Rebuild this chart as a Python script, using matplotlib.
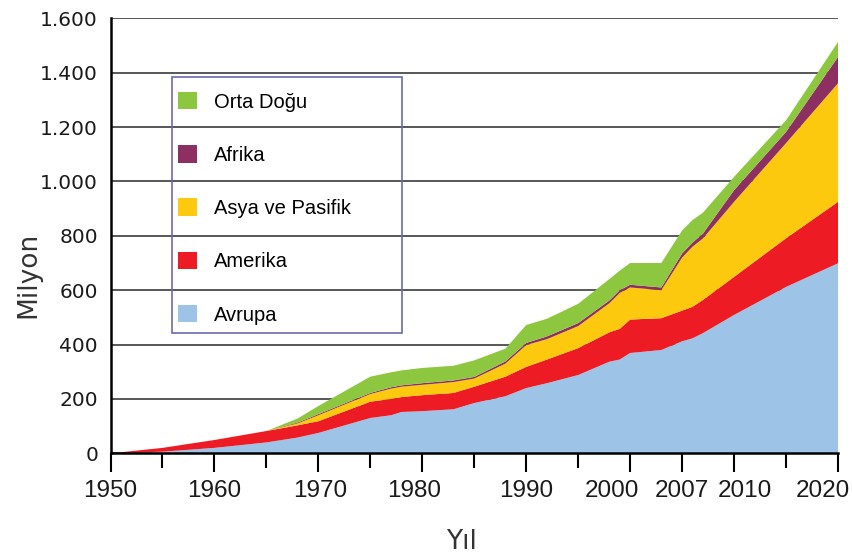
import matplotlib
matplotlib.use("Agg")
import matplotlib.pyplot as plt
from matplotlib.patches import Patch, Rectangle
from matplotlib.transforms import ScaledTranslation

# yıllar ve bölgelere göre milyon
yillar = [1950, 1955, 1960, 1965, 1968, 1970, 1975, 1977, 1978, 1980, 1983, 1985, 1988,
          1990, 1992, 1995, 1998, 1999, 2000, 2003, 2005, 2006, 2007, 2010, 2015, 2020]
avrupa = [0, 6, 20, 40, 58, 75, 130, 140, 152, 155, 162, 185, 210,
          240, 258, 288, 337, 345, 369, 380, 412, 423, 442, 509, 612, 699]
amerika = [0, 14, 29, 42, 45, 43, 60, 60, 55, 59, 60, 60, 72,
           78, 87, 99, 108, 113, 123, 117, 113, 116, 122, 140, 179, 226]
asya = [0, 0, 0, 0, 7, 22, 28, 38, 38, 38, 40, 30, 48,
        80, 75, 81, 107, 132, 118, 103, 195, 221, 226, 276, 350, 436]
afrika = [0, 0, 0, 0, 3, 4, 4, 5, 5, 6, 6, 6, 8,
          8, 10, 11, 10, 10, 10, 10, 15, 15, 18, 43, 41, 97]
orta_dogu = [0, 0, 0, 0, 15, 30, 60, 55, 55, 56, 54, 61, 47,
             66, 65, 71, 79, 72, 80, 90, 85, 83, 77, 49, 43, 55]

bolgeler = ["Avrupa", "Amerika", "Asya ve Pasifik", "Afrika", "Orta Doğu"]
renkler = ["#9DC3E6", "#ED1C24", "#FDC90F", "#8E2F62", "#8DC63F"]

etiket_yillar = [1950, 1960, 1970, 1980, 1990, 2000, 2005, 2010, 2020]
etiketler = ["1950", "1960", "1970", "1980", "1990", "2000", "2007", "2010", "2020"]
ara_yillar = [1955, 1965, 1975, 1985, 1995, 2015]
etiket_kayma = [0, 0, 2, -8, 0, -18, 0, 11, -15]  # piksel

fig = plt.figure(figsize=(8.52, 5.58), dpi=100)
ax = fig.add_axes([0.1297, 0.1876, 0.8539, 0.7796])

ax.stackplot(yillar, avrupa, amerika, asya, afrika, orta_dogu,
             colors=renkler, labels=bolgeler, linewidth=0)

ax.set_xlim(1950, 2020)
ax.set_ylim(0, 1600)
ax.set_yticks(range(0, 1601, 200))
ax.set_yticklabels([f"{v:,}".replace(",", ".") for v in range(0, 1601, 200)])
ax.tick_params(axis="y", length=0, pad=9, labelsize=14.5, labelcolor="#1a1a1a")

ax.set_xticks(etiket_yillar)
ax.set_xticklabels(etiketler, family="Liberation Sans")
ax.set_xticks(ara_yillar, minor=True)
ax.tick_params(axis="x", which="major", length=14, width=1.5, pad=5,
               labelsize=17.5, labelcolor="#1a1a1a")
ax.tick_params(axis="x", which="minor", length=11, width=1.5)
for lbl, dx in zip(ax.get_xticklabels(), etiket_kayma):
    lbl.set_transform(lbl.get_transform() + ScaledTranslation(dx / 100, 0, fig.dpi_scale_trans))

ax.set_axisbelow(True)
ax.yaxis.grid(True, color="#4a4a4a", linewidth=1.3)
for s in ["top", "right"]:
    ax.spines[s].set_visible(False)
ax.spines["left"].set_linewidth(1.8)
ax.spines["bottom"].set_linewidth(1.8)

ax.set_ylabel("Milyon", fontsize=19, color="#333333")
ax.yaxis.set_label_coords(-0.095, 0.41)
ax.set_xlabel("Yıl", fontsize=19, color="#333333")
ax.xaxis.set_label_coords(0.483, -0.175)

# lejant: çerçeve ayrı çiziliyor
tutamaklar = [Patch(facecolor=c, edgecolor="none") for c in renkler][::-1]
leg = ax.legend(tutamaklar, bolgeler[::-1], loc="upper left",
                bbox_to_anchor=(178 / 852, 1 - 92 / 558), bbox_transform=fig.transFigure,
                frameon=False, borderpad=0, labelspacing=1.67,
                handlelength=0.95, handleheight=0.95, handletextpad=0.85,
                borderaxespad=0, prop={"family": "Liberation Sans", "size": 14.5})
fig.patches.append(Rectangle((172 / 852, 1 - 333 / 558), 230 / 852, 256 / 558,
                             transform=fig.transFigure, facecolor="none",
                             edgecolor="#6A6AB0", linewidth=1.2, zorder=5))

plt.savefig("out.png", dpi=100)
